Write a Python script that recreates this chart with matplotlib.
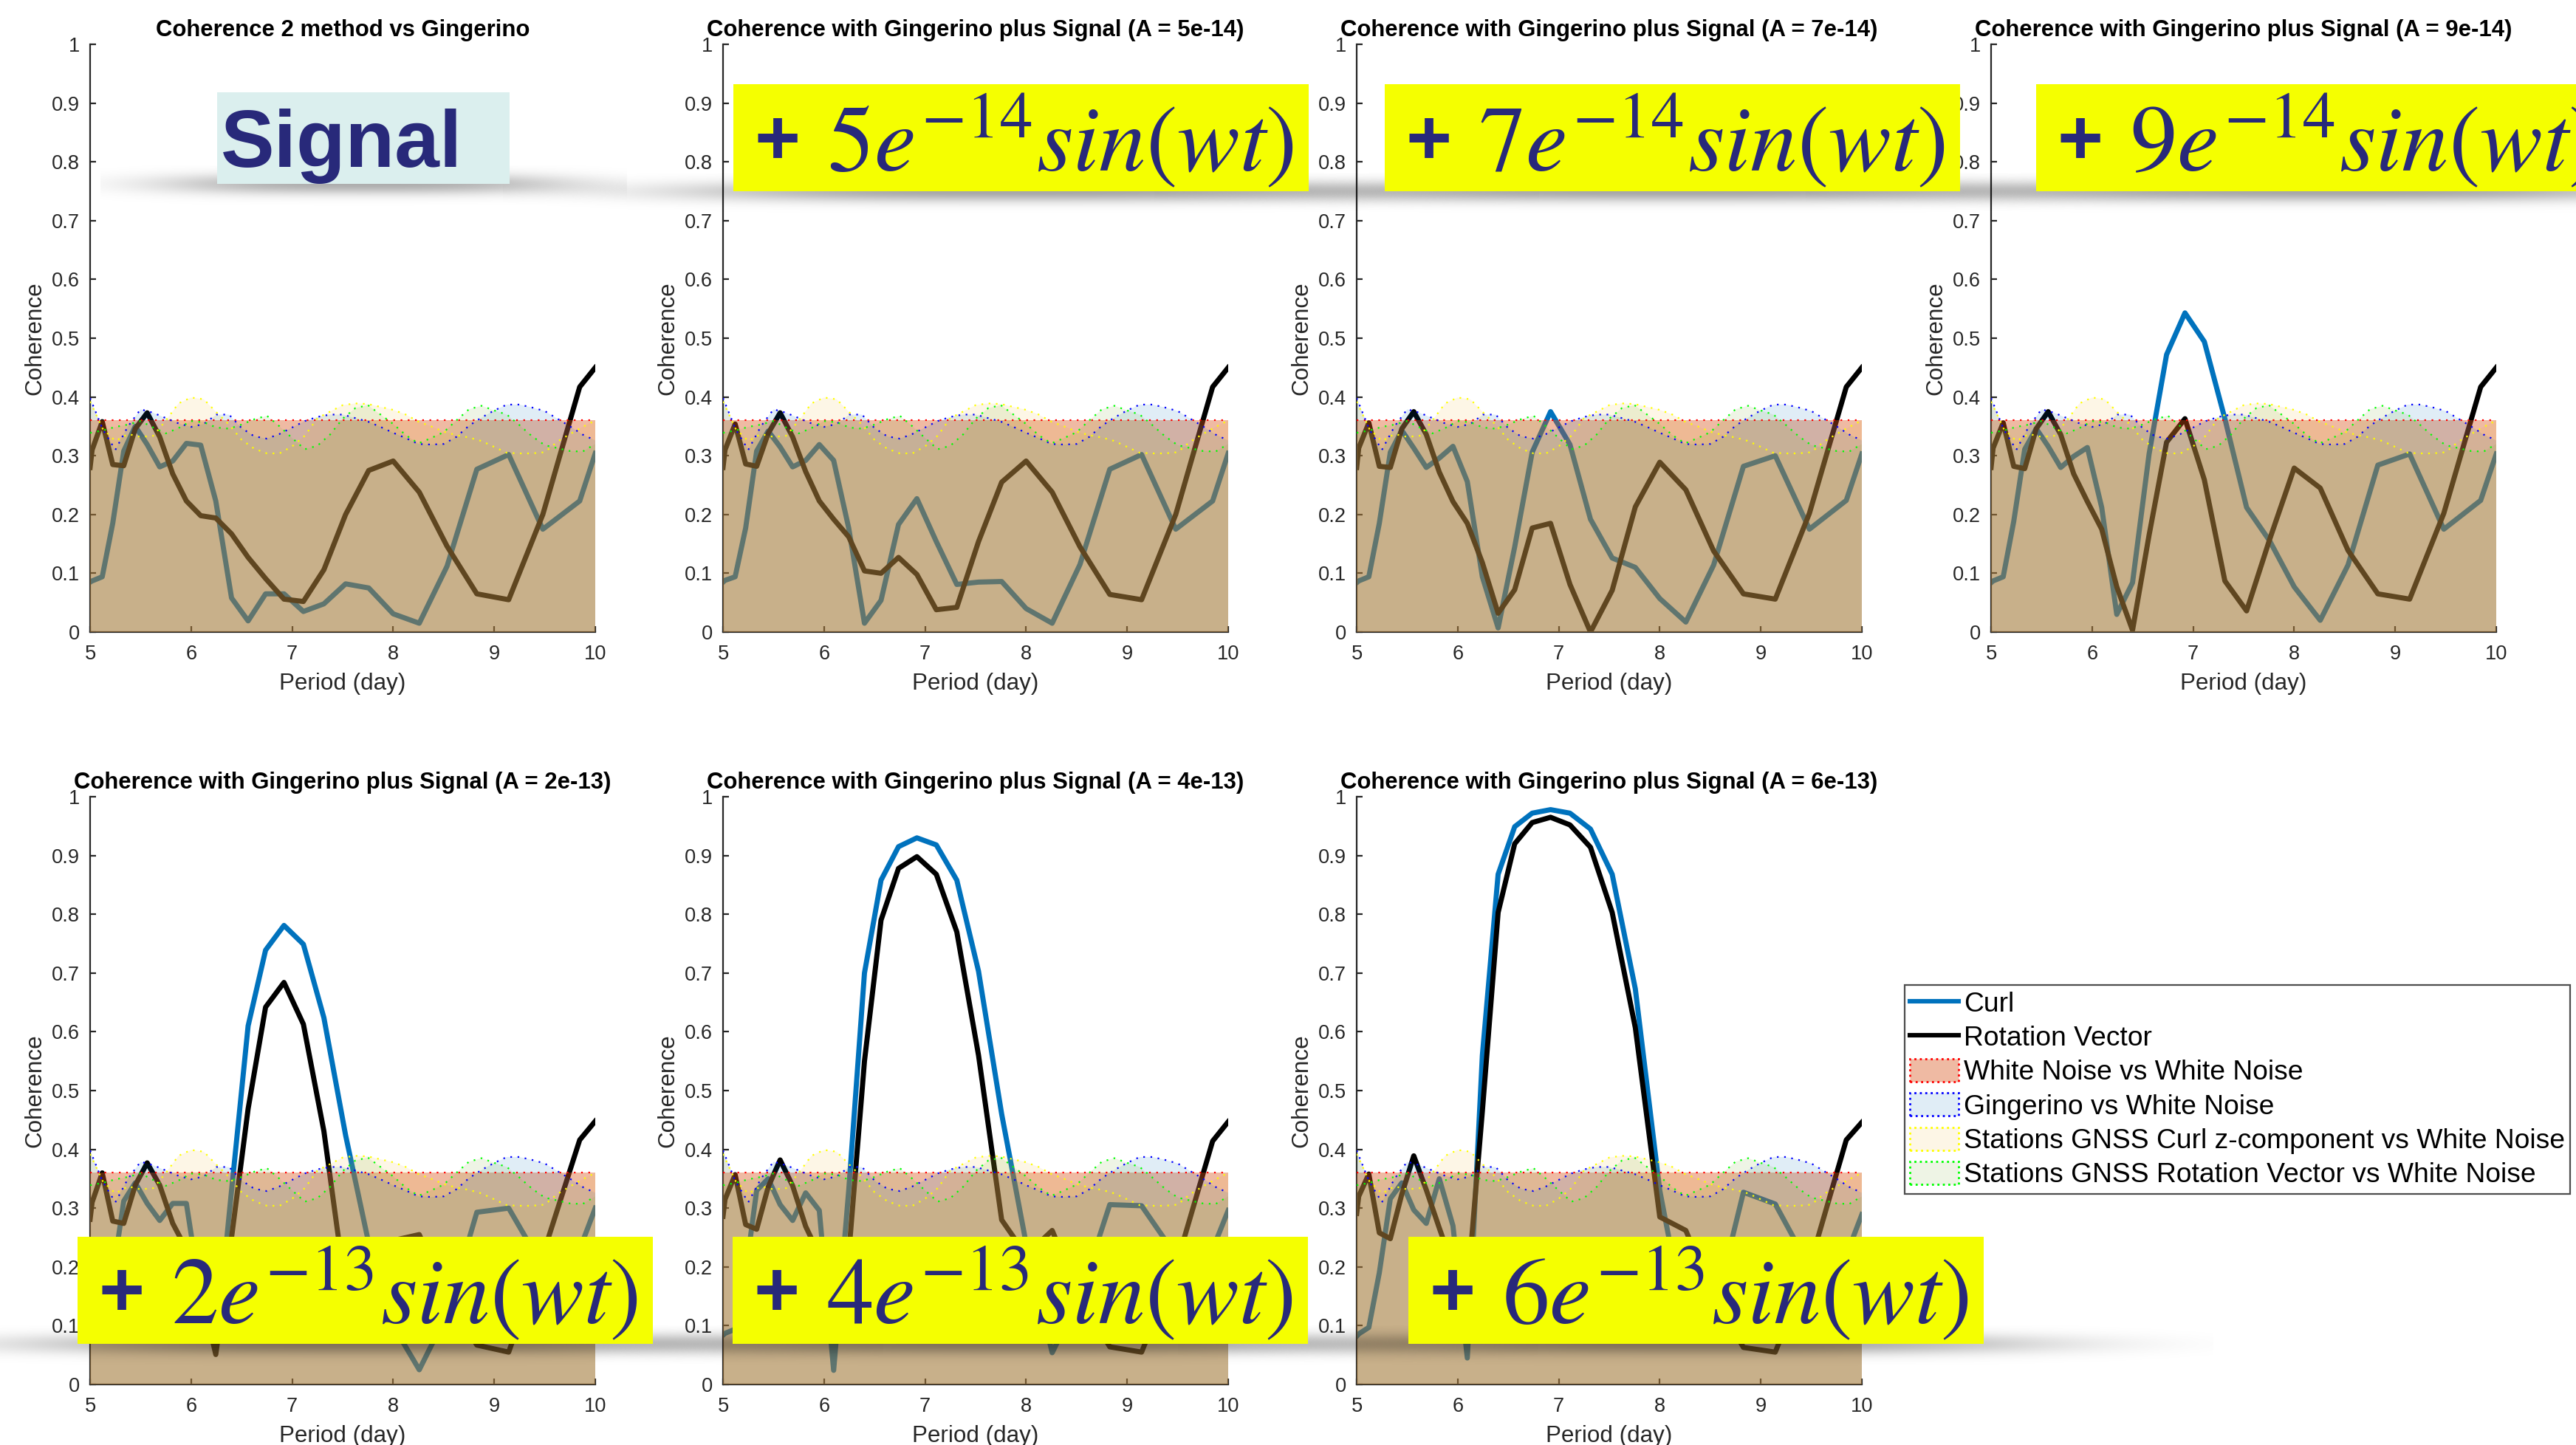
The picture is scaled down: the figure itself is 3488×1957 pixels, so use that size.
import numpy as np
import matplotlib
matplotlib.use("Agg")
import matplotlib.pyplot as plt
from matplotlib.patches import Patch, Rectangle
from matplotlib.lines import Line2D

plt.rcParams['font.family'] = ['Liberation Sans', 'DejaVu Sans']
plt.rcParams['mathtext.fontset'] = 'stix'

# ---------------- data ----------------
periods = [5.0, 5.02, 5.12, 5.224, 5.333, 5.447, 5.565, 5.689, 5.818, 5.953,
           6.095, 6.244, 6.4, 6.564, 6.737, 6.919, 7.111, 7.314, 7.529, 7.758,
           8.0, 8.258, 8.533, 8.828, 9.143, 9.481, 9.846, 10.0]

curl_p1 = [0.085, 0.087, 0.094, 0.185, 0.308, 0.350, 0.319, 0.281, 0.291, 0.321,
           0.318, 0.223, 0.058, 0.019, 0.065, 0.065, 0.035, 0.048, 0.082, 0.075,
           0.031, 0.015, 0.112, 0.277, 0.302, 0.175, 0.223, 0.304]
rot_p1 = [0.280, 0.310, 0.358, 0.285, 0.283, 0.346, 0.373, 0.332, 0.269, 0.223,
          0.198, 0.194, 0.167, 0.127, 0.091, 0.056, 0.052, 0.106, 0.200, 0.275,
          0.291, 0.238, 0.146, 0.065, 0.055, 0.200, 0.417, 0.450]

curl_p2 = [0.085, 0.088, 0.094, 0.177, 0.308, 0.342, 0.315, 0.281, 0.292, 0.319,
           0.292, 0.177, 0.015, 0.054, 0.183, 0.227, 0.154, 0.081, 0.085, 0.086,
           0.040, 0.015, 0.115, 0.277, 0.302, 0.175, 0.223, 0.304]
rot_p2 = [0.280, 0.310, 0.354, 0.286, 0.282, 0.338, 0.373, 0.332, 0.273, 0.223,
          0.192, 0.162, 0.104, 0.100, 0.127, 0.098, 0.038, 0.042, 0.154, 0.255,
          0.291, 0.238, 0.145, 0.064, 0.055, 0.200, 0.417, 0.450]

curl_p3 = [0.084, 0.087, 0.094, 0.185, 0.306, 0.343, 0.313, 0.280, 0.296, 0.316,
           0.256, 0.094, 0.007, 0.145, 0.306, 0.375, 0.319, 0.192, 0.126, 0.110,
           0.057, 0.017, 0.114, 0.282, 0.300, 0.175, 0.224, 0.303]
rot_p3 = [0.280, 0.313, 0.356, 0.282, 0.280, 0.346, 0.375, 0.336, 0.272, 0.222,
          0.185, 0.118, 0.032, 0.072, 0.177, 0.185, 0.081, 0.000, 0.071, 0.213,
          0.289, 0.242, 0.138, 0.065, 0.056, 0.202, 0.417, 0.450]

curl_p4 = [0.084, 0.087, 0.094, 0.188, 0.311, 0.346, 0.316, 0.280, 0.299, 0.314,
           0.212, 0.030, 0.084, 0.303, 0.472, 0.543, 0.494, 0.363, 0.212, 0.155,
           0.077, 0.020, 0.114, 0.284, 0.303, 0.175, 0.224, 0.303]
rot_p4 = [0.280, 0.313, 0.356, 0.282, 0.278, 0.346, 0.375, 0.336, 0.269, 0.222,
          0.175, 0.077, 0.003, 0.165, 0.323, 0.363, 0.259, 0.087, 0.036, 0.158,
          0.279, 0.245, 0.139, 0.065, 0.056, 0.202, 0.417, 0.450]

curl_p5 = [0.085, 0.088, 0.094, 0.185, 0.312, 0.343, 0.308, 0.279, 0.308, 0.308,
           0.150, 0.060, 0.330, 0.610, 0.739, 0.781, 0.749, 0.624, 0.424, 0.240,
           0.100, 0.025, 0.120, 0.293, 0.300, 0.200, 0.230, 0.300]
rot_p5 = [0.281, 0.310, 0.360, 0.278, 0.274, 0.339, 0.377, 0.339, 0.274, 0.230,
          0.160, 0.051, 0.250, 0.469, 0.642, 0.684, 0.613, 0.431, 0.160, 0.200,
          0.245, 0.255, 0.150, 0.067, 0.055, 0.220, 0.416, 0.448]

curl_p6 = [0.084, 0.087, 0.094, 0.190, 0.330, 0.350, 0.306, 0.279, 0.326, 0.296,
           0.024, 0.330, 0.700, 0.858, 0.915, 0.930, 0.918, 0.858, 0.703, 0.460,
           0.240, 0.054, 0.150, 0.306, 0.304, 0.220, 0.230, 0.296]
rot_p6 = [0.286, 0.315, 0.357, 0.272, 0.264, 0.336, 0.382, 0.338, 0.269, 0.220,
          0.150, 0.220, 0.550, 0.790, 0.878, 0.898, 0.868, 0.770, 0.560, 0.280,
          0.220, 0.262, 0.150, 0.064, 0.055, 0.200, 0.414, 0.447]

curl_p7 = [0.082, 0.086, 0.097, 0.190, 0.316, 0.343, 0.297, 0.274, 0.350, 0.270,
           0.045, 0.560, 0.868, 0.949, 0.972, 0.978, 0.972, 0.945, 0.868, 0.673,
           0.330, 0.100, 0.120, 0.327, 0.307, 0.200, 0.220, 0.289]
rot_p7 = [0.291, 0.320, 0.358, 0.258, 0.248, 0.324, 0.389, 0.331, 0.266, 0.200,
          0.160, 0.465, 0.803, 0.920, 0.956, 0.965, 0.952, 0.914, 0.803, 0.607,
          0.285, 0.262, 0.150, 0.063, 0.055, 0.200, 0.416, 0.446]

titles = ['Coherence 2 method vs Gingerino',
          'Coherence with Gingerino plus Signal (A = 5e-14)',
          'Coherence with Gingerino plus Signal (A = 7e-14)',
          'Coherence with Gingerino plus Signal (A = 9e-14)',
          'Coherence with Gingerino plus Signal (A = 2e-13)',
          'Coherence with Gingerino plus Signal (A = 4e-13)',
          'Coherence with Gingerino plus Signal (A = 6e-13)']

amp_mantissa = ['5', '7', '9', '2', '4', '6']
amp_exponent = ['-14', '-14', '-14', '-13', '-13', '-13']
signal_label = 'Signal'

# reference bands (same in every panel)
band_x = [5.0, 5.125, 5.25, 5.375, 5.5, 5.625, 5.75, 5.875, 6.0, 6.125,
          6.25, 6.375, 6.5, 6.625, 6.75, 6.875, 7.0, 7.125, 7.25, 7.375,
          7.5, 7.625, 7.75, 7.875, 8.0, 8.125, 8.25, 8.375, 8.5, 8.625,
          8.75, 8.875, 9.0, 9.125, 9.25, 9.375, 9.5, 9.625, 9.75, 9.875, 10.0]
white_noise_x = [5.0, 10.0]
white_noise_y = [0.36, 0.36]
gingerino_wn = [0.398, 0.345, 0.310, 0.350, 0.379, 0.373, 0.364, 0.355, 0.349, 0.354,
                0.370, 0.370, 0.347, 0.333, 0.329, 0.337, 0.348, 0.359, 0.366, 0.370,
                0.370, 0.364, 0.358, 0.349, 0.339, 0.330, 0.320, 0.319, 0.320, 0.332,
                0.351, 0.365, 0.377, 0.387, 0.387, 0.382, 0.376, 0.363, 0.350, 0.336, 0.326]
gnss_curl_wn = [0.392, 0.346, 0.325, 0.337, 0.332, 0.334, 0.360, 0.389, 0.399, 0.396,
                0.374, 0.353, 0.327, 0.312, 0.304, 0.304, 0.316, 0.334, 0.364, 0.375,
                0.386, 0.389, 0.388, 0.383, 0.378, 0.370, 0.358, 0.350, 0.341, 0.335,
                0.331, 0.325, 0.315, 0.305, 0.304, 0.304, 0.306, 0.324, 0.337, 0.349, 0.360]
gnss_rot_wn = [0.339, 0.343, 0.349, 0.353, 0.359, 0.348, 0.338, 0.347, 0.359, 0.357,
               0.348, 0.346, 0.353, 0.362, 0.368, 0.350, 0.330, 0.311, 0.317, 0.336,
               0.363, 0.381, 0.386, 0.370, 0.354, 0.335, 0.321, 0.330, 0.340, 0.360,
               0.379, 0.385, 0.377, 0.370, 0.352, 0.333, 0.318, 0.313, 0.308, 0.307, 0.320]

legend_labels = ['Curl', 'Rotation Vector', 'White Noise vs White Noise',
                 'Gingerino vs White Noise',
                 'Stations GNSS Curl z-component vs White Noise',
                 'Stations GNSS Rotation Vector vs White Noise']

curl_data = [curl_p1, curl_p2, curl_p3, curl_p4, curl_p5, curl_p6, curl_p7]
rot_data = [rot_p1, rot_p2, rot_p3, rot_p4, rot_p5, rot_p6, rot_p7]

# ---------------- styling ----------------
W, H, DPI = 3488, 1957, 200
C_CURL = '#0072BD'
C_ROT = '#000000'
WN_FACE = (217/255, 83/255, 25/255, 0.40)
GI_FACE = (0/255, 114/255, 189/255, 0.12)
GC_FACE = (237/255, 177/255, 32/255, 0.11)
GR_FACE = (119/255, 172/255, 48/255, 0.12)
DOT = (0, (1, 3.4))
AXC = '#262626'
NAVY = '#28297A'
YELLOW = '#F5FF00'

fig = plt.figure(figsize=(W / DPI, H / DPI), dpi=DPI)
fig.patch.set_facecolor('white')

col_x = [122, 979, 1837, 2696]
row_y = [60, 1079]
AW, AH = 684, 796
slots = [(0, 0), (0, 1), (0, 2), (0, 3), (1, 0), (1, 1), (1, 2)]

for i, (r, c) in enumerate(slots):
    x0, y0 = col_x[c], row_y[r]
    ax = fig.add_axes([x0 / W, 1 - (y0 + AH) / H, AW / W, AH / H])
    ax.plot(periods, curl_data[i], color=C_CURL, lw=2.5, zorder=2)
    ax.plot(periods, rot_data[i], color=C_ROT, lw=2.5, zorder=2.1)
    ax.fill_between(white_noise_x, 0, white_noise_y, facecolor=WN_FACE, edgecolor='none', zorder=3)
    ax.fill_between(band_x, 0, gingerino_wn, facecolor=GI_FACE, edgecolor='none', zorder=3)
    ax.fill_between(band_x, 0, gnss_curl_wn, facecolor=GC_FACE, edgecolor='none', zorder=3)
    ax.fill_between(band_x, 0, gnss_rot_wn, facecolor=GR_FACE, edgecolor='none', zorder=3)
    ax.plot(white_noise_x, white_noise_y, color='#FF0000', lw=0.8, ls=DOT, zorder=4)
    ax.plot(band_x, gingerino_wn, color='#0000FF', lw=0.8, ls=DOT, zorder=4)
    ax.plot(band_x, gnss_curl_wn, color='#FFFF00', lw=0.8, ls=DOT, zorder=4)
    ax.plot(band_x, gnss_rot_wn, color='#00FF00', lw=0.8, ls=DOT, zorder=4)

    ax.set_xlim(5, 10)
    ax.set_ylim(0, 1)
    ax.set_xticks([5, 6, 7, 8, 9, 10])
    ax.set_xticklabels(['5', '6', '7', '8', '9', '10'])
    yt = [0, 0.1, 0.2, 0.3, 0.4, 0.5, 0.6, 0.7, 0.8, 0.9, 1]
    ax.set_yticks(yt)
    ax.set_yticklabels(['0', '0.1', '0.2', '0.3', '0.4', '0.5', '0.6', '0.7', '0.8', '0.9', '1'])
    for s in ['top', 'right']:
        ax.spines[s].set_visible(False)
    for s in ['left', 'bottom']:
        ax.spines[s].set_color(AXC)
        ax.spines[s].set_linewidth(0.8)
    ax.tick_params(direction='in', length=3, width=0.8, colors=AXC, labelsize=9.8, pad=5)
    ax.tick_params(axis='x', pad=6)
    ax.set_title(titles[i], fontsize=11.2, fontweight='bold', pad=4, color='black')
    ax.set_xlabel('Period (day)', fontsize=11.3, color=AXC)
    ax.set_ylabel('Coherence', fontsize=11.3, color=AXC)
    ax.xaxis.set_label_coords(0.5, -0.069)
    ax.yaxis.set_label_coords(-0.087, 0.5)

# ---------------- legend ----------------
handles = [Line2D([], [], color=C_CURL, lw=2.2),
           Line2D([], [], color=C_ROT, lw=2.2),
           Patch(facecolor=WN_FACE, edgecolor='#FF0000', linestyle=':', linewidth=1.0),
           Patch(facecolor=GI_FACE, edgecolor='#0000FF', linestyle=':', linewidth=1.0),
           Patch(facecolor=GC_FACE, edgecolor='#FFFF00', linestyle=':', linewidth=1.0),
           Patch(facecolor=GR_FACE, edgecolor='#00FF00', linestyle=':', linewidth=1.0)]
leg = fig.legend(handles, legend_labels, loc='upper left',
                 bbox_to_anchor=(2579 / W, 1 - 1334 / H), bbox_transform=fig.transFigure,
                 fontsize=13.4, frameon=True, fancybox=False, framealpha=1,
                 edgecolor='0.3', borderpad=0.2, labelspacing=0.27, handlelength=1.75,
                 handleheight=0.9, handletextpad=0.2, borderaxespad=0)
leg.get_frame().set_linewidth(0.8)

# ---------------- overlay boxes ----------------
ov = fig.add_axes([0, 0, 1, 1], zorder=10)
ov.patch.set_alpha(0)
ov.axis('off')


def shadow(x0, x1, yb, spread=0.6, amax=0.35):
    bw = x1 - x0
    xc = 0.5 * (x0 + x1)
    xs = np.arange(xc - 0.9 * bw, xc + 0.9 * bw, 2.0)
    ys = np.arange(yb - 25, yb + 60, 1.0)
    X, Y = np.meshgrid(xs, ys)
    gy = np.exp(-0.5 * ((Y - yb) / 10.0) ** 2)
    hx = np.exp(-np.abs((X - xc) / (spread * bw)) ** 3)
    img = np.zeros(X.shape + (4,))
    img[..., 3] = amax * gy * hx
    ov.imshow(img, extent=(xs[0], xs[-1], ys[-1], ys[0]), interpolation='bilinear',
              aspect='auto', zorder=1)


renderer = fig.canvas.get_renderer()


def fit_text(x, y, s, target_w, **kw):
    t = ov.text(x, y, s, fontsize=40, **kw)
    bb = t.get_window_extent(renderer)
    t.set_fontsize(40 * target_w / bb.width)
    return t


# Signal box
sx0, sy0, sx1, sy1 = 294, 125, 690, 249
shadow(sx0, sx1, sy1, spread=0.7, amax=0.32)
ov.add_patch(Rectangle((sx0, sy0), sx1 - sx0, sy1 - sy0, facecolor='#DBEFEE',
                       edgecolor='none', zorder=2))
fit_text(sx0 + 5, sy0 + 0.817 * (sy1 - sy0), signal_label, 327, color=NAVY,
         fontweight='bold', ha='left', va='baseline', zorder=3)

# yellow amplitude boxes
BW, BH = 779, 145
yellow_pos = [(993, 114), (1875, 114), (2757, 114), (105, 1675), (992, 1675), (1907, 1675)]
for (bx, by), m, e in zip(yellow_pos, amp_mantissa, amp_exponent):
    shadow(bx, bx + BW, by + BH, spread=0.6, amax=0.35)
    ov.add_patch(Rectangle((bx, by), BW, BH, facecolor=YELLOW, edgecolor='none', zorder=2))
    fit_text(bx + 28, by + 80, '+', 62, color=NAVY, fontweight='bold',
             ha='left', va='center', zorder=3)
    s = r'$\mathit{' + m + r'}e^{' + e + r'}sin(wt)$'
    fit_text(bx + 127, by + 118, s, 632, color=NAVY, ha='left', va='baseline', zorder=3)

ov.set_xlim(0, W)
ov.set_ylim(H, 0)

fig.savefig('out.png', dpi=DPI, facecolor='white')
